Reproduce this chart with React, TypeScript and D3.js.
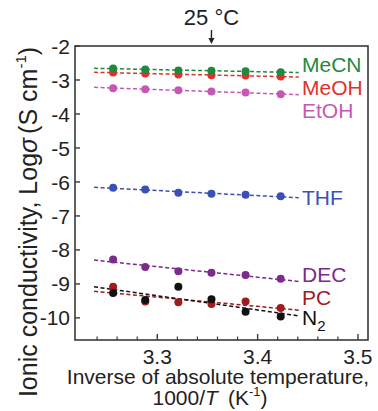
import React, { useEffect, useRef } from 'react';
import * as d3 from 'd3';

// inverse temperature, 1000/T (K^-1)
const invT = [3.256, 3.288, 3.321, 3.354, 3.388, 3.423];
const fitSpan = [3.237, 3.441];
const roomTemp = 3.354; // 25 °C

// log of ionic conductivity, S cm^-1
const mecn = [-2.66, -2.69, -2.72, -2.73, -2.74, -2.77];
const meoh = [-2.78, -2.81, -2.84, -2.86, -2.87, -2.9];
const etoh = [-3.24, -3.27, -3.3, -3.34, -3.37, -3.42];
const thf = [-6.17, -6.22, -6.32, -6.35, -6.38, -6.42];
const dec = [-8.28, -8.5, -8.63, -8.67, -8.74, -8.85];
const pc = [-9.08, -9.52, -9.54, -9.59, -9.52, -9.71];
const n2 = [-9.27, -9.47, -9.08, -9.45, -9.82, -9.96];

const yTicks = [-2, -3, -4, -5, -6, -7, -8, -9, -10];
const xMajor = [3.3, 3.4, 3.5];
const xMinor = [3.24, 3.26, 3.28, 3.32, 3.34, 3.36, 3.38, 3.42, 3.44, 3.46, 3.48];

// drawing order: red under green, black over dark red
const series = [
  { name: 'MeOH', values: meoh, color: '#e1312c', labelY: 95 },
  { name: 'MeCN', values: mecn, color: '#1f8a3d', labelY: 72 },
  { name: 'EtOH', values: etoh, color: '#c558b6', labelY: 118 },
  { name: 'THF', values: thf, color: '#3b50b6', labelY: 205 },
  { name: 'DEC', values: dec, color: '#7c2a8e', labelY: 282 },
  { name: 'PC', values: pc, color: '#a21b1f', labelY: 305 },
  { name: 'N2', values: n2, color: '#111111', labelY: 325 },
];

const font = '"Liberation Sans", Arial, sans-serif';

// least squares line through the points
function fit(xs, ys) {
  const mx = d3.mean(xs);
  const my = d3.mean(ys);
  let sxy = 0;
  let sxx = 0;
  xs.forEach((x, i) => {
    sxy += (x - mx) * (ys[i] - my);
    sxx += (x - mx) * (x - mx);
  });
  const slope = sxy / sxx;
  return (x) => my + slope * (x - mx);
}

const Chart = ({ width, height }) => {
  const svgRef = useRef(null);

  useEffect(() => {
    const svg = d3.select(svgRef.current);
    svg.selectAll('*').remove();

    const x = d3.scaleLinear().domain([3.218, 3.51]).range([75, 368]);
    const y = d3.scaleLinear().domain([-10.65, -2]).range([340, 46]);
    const [x0, x1] = x.range();
    const [yb, yt] = y.range();
    const axisColor = '#3a3a3a';

    // frame
    svg.append('rect')
      .attr('x', x0)
      .attr('y', yt)
      .attr('width', x1 - x0)
      .attr('height', yb - yt)
      .attr('fill', 'none')
      .attr('stroke', axisColor)
      .attr('stroke-width', 1.6);

    // y ticks, pointing inward
    svg.selectAll('.ytick')
      .data(yTicks)
      .enter()
      .append('line')
      .attr('x1', x0)
      .attr('x2', x0 + 5)
      .attr('y1', d => y(d))
      .attr('y2', d => y(d))
      .attr('stroke', axisColor)
      .attr('stroke-width', 1.4);

    svg.selectAll('.ylab')
      .data(yTicks)
      .enter()
      .append('text')
      .attr('x', x0 - 5)
      .attr('y', d => y(d))
      .attr('dy', '0.36em')
      .attr('text-anchor', 'end')
      .attr('font-family', font)
      .attr('font-size', 21)
      .attr('fill', '#222')
      .text(d => d);

    // x ticks
    svg.selectAll('.xmaj')
      .data(xMajor)
      .enter()
      .append('line')
      .attr('x1', d => x(d))
      .attr('x2', d => x(d))
      .attr('y1', yb)
      .attr('y2', yb - 6)
      .attr('stroke', axisColor)
      .attr('stroke-width', 1.4);

    svg.selectAll('.xmin')
      .data(xMinor)
      .enter()
      .append('line')
      .attr('x1', d => x(d))
      .attr('x2', d => x(d))
      .attr('y1', yb)
      .attr('y2', yb - 3.5)
      .attr('stroke', axisColor)
      .attr('stroke-width', 1.2);

    svg.selectAll('.xlab')
      .data(xMajor)
      .enter()
      .append('text')
      .attr('x', d => x(d))
      .attr('y', 364)
      .attr('text-anchor', 'middle')
      .attr('font-family', font)
      .attr('font-size', 21)
      .attr('fill', '#222')
      .text(d => d.toFixed(1));

    // fitted dashed lines
    series.forEach(s => {
      const f = fit(invT, s.values);
      svg.append('line')
        .attr('x1', x(fitSpan[0]))
        .attr('x2', x(fitSpan[1]))
        .attr('y1', y(f(fitSpan[0])))
        .attr('y2', y(f(fitSpan[1])))
        .attr('stroke', s.color)
        .attr('stroke-width', 1.5)
        .attr('stroke-dasharray', '4,2.5');
    });

    // points
    series.forEach(s => {
      svg.append('g')
        .selectAll('circle')
        .data(s.values)
        .enter()
        .append('circle')
        .attr('cx', (d, i) => x(invT[i]))
        .attr('cy', d => y(d))
        .attr('r', 4)
        .attr('fill', s.color);
    });

    // series labels
    series.forEach(s => {
      const t = svg.append('text')
        .attr('x', 302)
        .attr('y', s.labelY)
        .attr('font-family', font)
        .attr('font-size', 21)
        .attr('fill', s.color);
      if (s.name === 'N2') {
        t.append('tspan').text('N');
        t.append('tspan').attr('font-size', 15).attr('dy', 6).text('2');
      } else {
        t.text(s.name);
      }
    });

    // 25 °C marker
    const xr = x(roomTemp);
    svg.append('text')
      .attr('x', xr)
      .attr('y', 25)
      .attr('text-anchor', 'middle')
      .attr('font-family', font)
      .attr('font-size', 22)
      .attr('fill', '#222')
      .text('25 °C');
    svg.append('line')
      .attr('x1', xr)
      .attr('x2', xr)
      .attr('y1', 30)
      .attr('y2', 40)
      .attr('stroke', '#222')
      .attr('stroke-width', 1.4);
    svg.append('path')
      .attr('d', `M${xr - 3},${38} L${xr + 3},${38} L${xr},${44} Z`)
      .attr('fill', '#222');

    // x title
    svg.append('text')
      .attr('x', 218)
      .attr('y', 384)
      .attr('text-anchor', 'middle')
      .attr('font-family', font)
      .attr('font-size', 21)
      .attr('fill', '#222')
      .text('Inverse of absolute temperature,');

    const xt2 = svg.append('text')
      .attr('x', 210)
      .attr('y', 405)
      .attr('text-anchor', 'middle')
      .attr('font-family', font)
      .attr('font-size', 21)
      .attr('fill', '#222');
    xt2.append('tspan').text('1000/');
    xt2.append('tspan').attr('font-style', 'italic').text('T');
    xt2.append('tspan').attr('dx', 10).text('(K');
    xt2.append('tspan').attr('font-size', 13).attr('dy', -9).text('-1');
    xt2.append('tspan').attr('dy', 9).text(')');

    // y title
    const yt2 = svg.append('text')
      .attr('transform', 'translate(37,222) rotate(-90)')
      .attr('text-anchor', 'middle')
      .attr('font-family', font)
      .attr('font-size', 25)
      .attr('fill', '#222');
    yt2.append('tspan').text('Ionic conductivity, Log');
    yt2.append('tspan').attr('font-style', 'italic').text('σ');
    yt2.append('tspan').attr('dx', 4).text('(S cm');
    yt2.append('tspan').attr('font-size', 15).attr('dy', -11).text('-1');
    yt2.append('tspan').attr('dy', 11).text(')');
  }, [width, height]);

  return (
    <svg
      ref={svgRef}
      width={width}
      height={height}
      style={{ position: 'absolute', left: 0, top: 0, background: '#fff' }}
    />
  );
};

export default function App() {
  return <Chart width={378} height={411} />;
}
